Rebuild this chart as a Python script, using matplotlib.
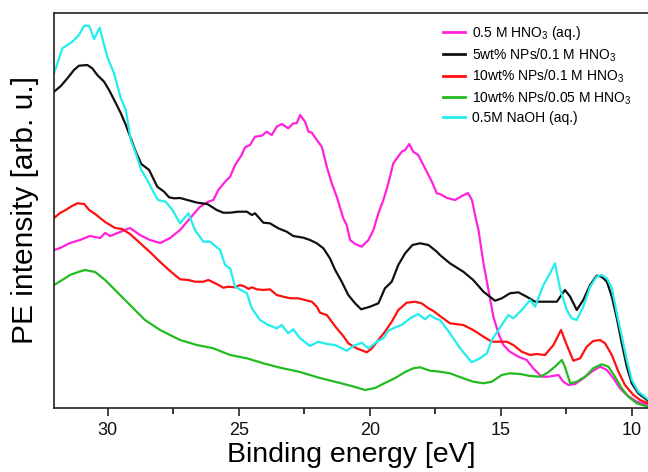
import matplotlib
matplotlib.use("Agg")
import matplotlib.pyplot as plt
from matplotlib.ticker import MultipleLocator, NullLocator

plt.rcParams['font.family'] = ['Liberation Sans', 'DejaVu Sans']
plt.rcParams['mathtext.fontset'] = 'custom'
plt.rcParams['mathtext.rm'] = 'Liberation Sans'
plt.rcParams['mathtext.it'] = 'Liberation Sans:italic'
plt.rcParams['mathtext.default'] = 'regular'

# ---- data (binding energy in eV, intensity in arb. u.) ----
labels = ['0.5 M HNO$_3$ (aq.)', '5wt% NPs/0.1 M HNO$_3$', '10wt% NPs/0.1 M HNO$_3$',
          '10wt% NPs/0.05 M HNO$_3$', '0.5M NaOH (aq.)']
colors = ['#ff22dd', '#111111', '#ff1111', '#22bb22', '#22eeee']

hno3_E = [32.05, 31.82, 31.44, 31.06, 30.68, 30.29, 30.10, 29.91, 29.53, 29.15, 28.77, 28.39, 28.00,
          27.62, 27.24, 26.86, 26.48, 26.16, 25.97, 25.78, 25.52, 25.33, 25.14, 24.89, 24.76, 24.57,
          24.38, 24.12, 23.93, 23.74, 23.55, 23.36, 23.11, 22.92, 22.79, 22.66, 22.47, 22.34, 22.21,
          22.02, 21.83, 21.64, 21.45, 21.26, 21.01, 20.88, 20.75, 20.56, 20.31, 20.05, 19.86, 19.67,
          19.48, 19.29, 19.10, 18.78, 18.65, 18.49, 18.34, 18.15, 17.89, 17.63, 17.44, 17.32, 17.05,
          16.74, 16.48, 16.25, 16.10, 15.94, 15.85, 15.66, 15.47, 15.28, 15.09, 14.90, 14.65, 14.33,
          14.01, 13.76, 13.44, 13.18, 12.80, 12.61, 12.42, 12.16, 11.85, 11.53, 11.21, 10.95, 10.70,
          10.45, 10.19, 9.81, 9.38]
hno3_I = [158, 160, 165, 168, 172, 170, 175, 172, 176, 180, 173, 168, 165,
          170, 178, 189.7, 201.3, 206.3, 208, 218, 226.3, 231.3, 243, 253, 260.7, 263,
          271.3, 272.3, 276.3, 273, 281.3, 284, 279.7, 284.7, 284.7, 293, 286.3, 276.3, 275.3,
          268, 261.3, 241.3, 224.7, 211.3, 189.7, 183, 168, 164, 161.3, 168, 178, 194.7,
          208, 224.7, 244.7, 256.3, 258, 264, 256.3, 253, 239.7, 226.3, 214.7, 214, 210,
          208, 212, 215, 208, 188, 178, 144.7, 118, 91.3, 74.7, 63, 56.3, 51.3,
          48, 39.7, 31.3, 31.3, 33, 26.3, 23, 24, 29.7, 36.3, 41.3, 38, 29.7,
          19.7, 13, 6.3, 3]

np5_E = [32.05, 31.79, 31.54, 31.29, 31.10, 30.78, 30.59, 30.40, 30.14, 29.95, 29.69, 29.50, 29.31,
         29.12, 28.93, 28.72, 28.42, 28.11, 27.85, 27.66, 27.47, 27.24, 26.96, 26.58, 26.20, 25.84,
         25.59, 25.33, 25.02, 24.69, 24.50, 24.38, 24.06, 23.81, 23.49, 23.17, 22.92, 22.53, 22.28,
         22.02, 21.77, 21.52, 21.32, 21.07, 20.82, 20.56, 20.33, 19.99, 19.67, 19.42, 19.16, 18.91,
         18.65, 18.37, 18.08, 17.76, 17.44, 17.32, 16.94, 16.43, 16.05, 15.66, 15.22, 14.96, 14.65,
         14.33, 14.01, 13.69, 13.31, 12.86, 12.55, 12.35, 12.10, 11.85, 11.59, 11.34, 11.15, 10.95,
         10.76, 10.57, 10.38, 10.19, 10.00, 9.75, 9.38]
np5_I = [316.3, 322, 329.7, 338, 342.3, 343, 339.7, 333, 326.3, 318, 304.7, 294.7, 283,
         269.7, 256.3, 244, 238, 221.3, 216.3, 210.7, 209.7, 210, 208, 205.3, 204, 198,
         195.3, 195.3, 196.3, 196.3, 193, 194.7, 185.3, 184.7, 179.7, 176.3, 172, 170.3, 168,
         164.7, 159.7, 149.7, 138, 126.3, 113, 104.7, 98.7, 101.3, 104.7, 119.7, 126.3, 143,
         154.7, 163, 164.7, 163, 156.3, 153, 144.7, 136.3, 128, 116.3, 107.3, 109.7, 114.7,
         115.7, 111.3, 106.3, 106.3, 106.3, 118, 111.3, 98, 108, 123, 132.3, 131.3, 126.3,
         111.3, 89.7, 64.7, 41.3, 24.7, 14.7, 7.3]

np10_E = [32.05, 31.82, 31.60, 31.41, 31.16, 30.90, 30.71, 30.48, 30.10, 29.72, 29.45, 29.15, 28.77,
          28.39, 28.00, 27.62, 27.24, 26.92, 26.67, 26.35, 26.16, 25.84, 25.59, 25.40, 25.14, 24.95,
          24.76, 24.63, 24.50, 24.31, 24.06, 23.81, 23.55, 23.30, 23.04, 22.73, 22.47, 22.21, 22.02,
          21.90, 21.64, 21.45, 21.26, 21.01, 20.82, 20.50, 20.11, 19.92, 19.67, 19.42, 19.16, 18.91,
          18.59, 18.27, 18.02, 17.76, 17.57, 17.32, 16.94, 16.43, 16.05, 15.66, 15.34, 15.03, 14.77,
          14.52, 14.20, 13.88, 13.63, 13.31, 12.99, 12.70, 12.48, 12.23, 11.97, 11.72, 11.47, 11.21,
          11.02, 10.76, 10.51, 10.26, 9.94, 9.68, 9.38]
np10_I = [190, 195, 198, 201.3, 204.7, 204, 198, 194, 186, 180, 179, 174, 165,
          156, 146, 137, 128.7, 128, 126.3, 126.3, 128, 124, 120.3, 121.3, 120.7, 123,
          121.3, 119, 120.7, 118.7, 118, 118.7, 113, 111.3, 109.7, 109.7, 108, 106.3, 101.3,
          95.3, 93, 86.3, 79.7, 72, 64.7, 59.7, 55.7, 59.7, 68, 76.3, 86.3, 98,
          105.3, 106.3, 104.7, 99.7, 97, 92, 84.7, 83, 78, 71.3, 66.3, 66.3, 66.3,
          63, 56.3, 53, 54, 53, 63, 78, 63, 47.3, 49.7, 61.3, 67, 68,
          64.7, 53, 36.3, 23, 13, 8, 4.7]

np10b_E = [32.05, 31.74, 31.44, 31.13, 30.87, 30.48, 30.10, 29.72, 29.34, 28.96, 28.58, 28.00, 27.24,
           26.60, 25.97, 25.33, 24.69, 24.06, 23.42, 22.66, 21.90, 21.13, 20.56, 20.18, 19.80, 19.42,
           19.03, 18.65, 18.34, 18.08, 17.70, 17.32, 16.94, 16.43, 16.05, 15.66, 15.34, 14.96, 14.65,
           14.26, 13.88, 13.50, 13.24, 12.93, 12.67, 12.55, 12.35, 12.10, 11.78, 11.47, 11.15, 10.89,
           10.64, 10.38, 10.13, 9.81, 9.38]
np10b_I = [123, 128, 133, 136, 138, 136, 128, 118, 108, 98, 88, 78, 68,
           63, 59.7, 53, 49.7, 44.7, 40.3, 36, 30, 25, 21, 18, 20, 25,
           30, 36, 39.7, 40.7, 37.3, 36.3, 34.7, 29.7, 26.3, 24.7, 26.3, 33, 34.7,
           34, 32, 31.3, 34.7, 41.3, 48, 41.3, 24.7, 26.3, 31.3, 39.7, 43.7, 41.3,
           31.3, 19.7, 11.3, 4.7, 1.3]

naoh_E = [32.05, 31.73, 31.35, 31.10, 30.90, 30.71, 30.52, 30.31, 30.02, 29.76, 29.50, 29.31, 29.12,
          28.93, 28.72, 28.49, 28.23, 28.08, 27.79, 27.53, 27.24, 26.92, 26.67, 26.35, 26.10, 25.71,
          25.52, 25.33, 25.14, 24.69, 24.50, 24.19, 23.87, 23.55, 23.36, 23.11, 22.92, 22.66, 22.28,
          21.96, 21.64, 21.32, 20.88, 20.63, 20.31, 20.05, 19.73, 19.48, 19.29, 18.97, 18.78, 18.46,
          18.15, 17.89, 17.70, 17.51, 17.32, 16.94, 16.55, 16.11, 15.79, 15.53, 15.34, 15.09, 14.71,
          14.52, 14.20, 13.88, 13.69, 13.37, 13.12, 12.93, 12.74, 12.48, 12.29, 12.10, 11.85, 11.59,
          11.34, 11.15, 10.95, 10.76, 10.57, 10.38, 10.19, 10.00, 9.75, 9.38]
naoh_I = [334.7, 359.7, 366.3, 373, 382.3, 382.3, 369, 380.3, 351.3, 334.7, 309.7, 298, 268,
          254.7, 238, 228, 214.7, 208, 206.3, 198, 184.7, 194.7, 178, 166.3, 166.3, 158,
          143, 139.7, 121.3, 114.7, 99.7, 88, 83, 79.7, 83, 74.7, 78.7, 69.7, 62,
          66.3, 64, 63, 57.3, 62, 65.3, 59.7, 66.3, 69.7, 77.3, 81.3, 83, 89.7,
          94, 88.7, 93, 89.7, 88, 74.7, 59.7, 45.7, 49.7, 54.7, 68, 78, 93,
          89.7, 98, 108, 101.3, 123, 134.7, 144.7, 119.7, 98, 89.7, 88, 101.3, 121.3,
          131.3, 133, 129.7, 119.7, 94.7, 71.3, 48, 28, 16.3, 8.7]

series_E = [hno3_E, np5_E, np10_E, np10b_E, naoh_E]
series_I = [hno3_I, np5_I, np10_I, np10b_I, naoh_I]

xticks = [30, 25, 20, 15, 10]

# ---- figure ----
fig = plt.figure(figsize=(6.48, 4.72), dpi=100)
ax = fig.add_axes([54.3 / 648, 1 - 408 / 472, 1 - 54.3 / 648, (408 - 13) / 472])

for E, I, c, lab in zip(series_E, series_I, colors, labels):
    ax.plot(E, I, color=c, lw=1.6, label=lab, solid_joinstyle='round')

ax.set_xlim(32.04, 9.38)
ax.set_ylim(0, 395)
ax.set_xticks(xticks)
ax.set_xticklabels([str(t) for t in xticks])
ax.xaxis.set_minor_locator(MultipleLocator(2.5))
ax.yaxis.set_major_locator(NullLocator())
ax.yaxis.set_minor_locator(NullLocator())
ax.tick_params(axis='x', which='major', direction='out', length=6, width=1.1,
               labelsize=13, pad=4, colors='#111111')
ax.tick_params(axis='x', which='minor', direction='out', length=4, width=1.1)
ax.spines['right'].set_visible(False)
for s in ['left', 'top', 'bottom']:
    ax.spines[s].set_linewidth(1.2)
    ax.spines[s].set_color('#222222')

ax.set_xlabel('Binding energy [eV]', fontsize=20.5, labelpad=2)
ax.set_ylabel('PE intensity [arb. u.]', fontsize=21.5, labelpad=11)

leg = ax.legend(loc='upper left', bbox_to_anchor=(443 / 648, 1 - 24 / 472),
                bbox_transform=fig.transFigure, frameon=False, fontsize=10,
                handlelength=1.6, handletextpad=0.5, labelspacing=0.3,
                borderpad=0, borderaxespad=0)
for line in leg.get_lines():
    line.set_linewidth(2.0)

fig.savefig('out.png', dpi=100)
